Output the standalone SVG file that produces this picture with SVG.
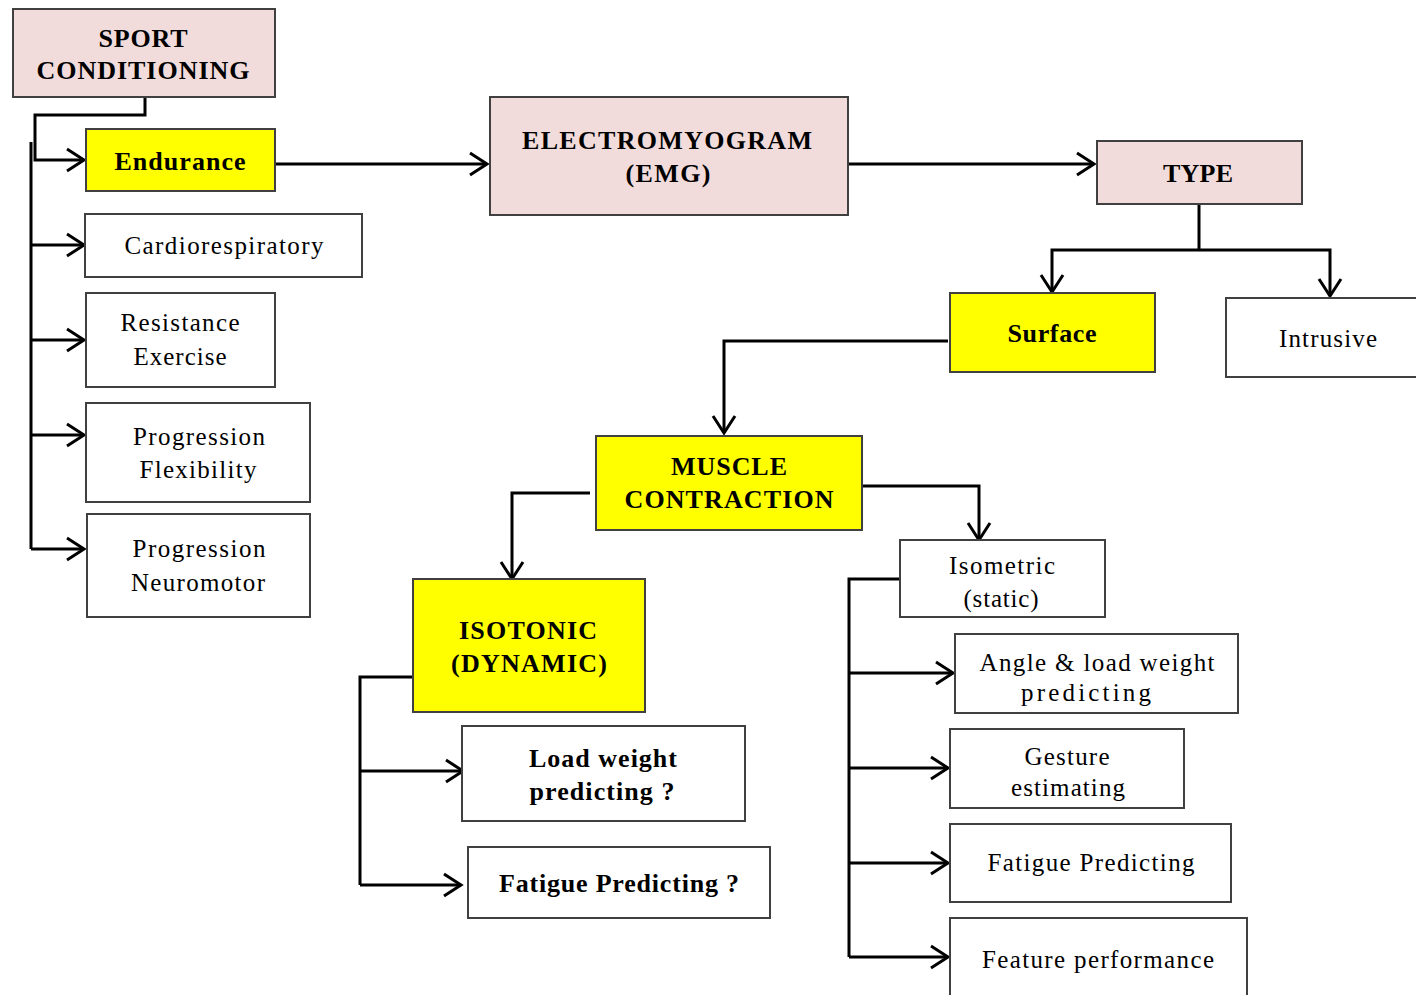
<svg xmlns="http://www.w3.org/2000/svg" width="1416" height="995" viewBox="0 0 1416 995">
<defs>
<marker id="arr" markerUnits="userSpaceOnUse" markerWidth="24" markerHeight="26" refX="19" refY="13" orient="auto">
<path d="M2,2 L19,13 L2,24" fill="none" stroke="#000" stroke-width="3"/>
</marker>
<style>
.box{stroke:#404040;stroke-width:2}
.pink{fill:#f2dcdb}
.yel{fill:#ffff00}
.wht{fill:#ffffff}
text{font-family:'Liberation Serif','DejaVu Serif','Times New Roman',serif;fill:#000;text-anchor:middle}
.n{font-size:25px}
.b{font-size:26px;font-weight:bold}
.c{fill:none;stroke:#000;stroke-width:3}
.ca{fill:none;stroke:#000;stroke-width:3;marker-end:url(#arr)}
</style>
</defs>
<rect width="1416" height="995" fill="#fff"/>
<g id="connectors">
<path class="ca" d="M145,97 V115 H35 V160 H84"/>
<path class="c" d="M31,142 V549"/>
<path class="ca" d="M31,245 H84"/>
<path class="ca" d="M31,340 H84"/>
<path class="ca" d="M31,435 H84"/>
<path class="ca" d="M31,549 H84"/>
<path class="ca" d="M275,164 H487"/>
<path class="ca" d="M848,164 H1094"/>
<path class="c" d="M1199,204 V250"/>
<path class="ca" d="M1199,250 H1052 V292"/>
<path class="ca" d="M1199,250 H1330 V296"/>
<path class="ca" d="M948,341 H724 V433"/>
<path class="ca" d="M590,493 H512 V579"/>
<path class="ca" d="M862,486 H979 V540"/>
<path class="c" d="M413,677 H360 V885"/>
<path class="ca" d="M360,771 H463"/>
<path class="ca" d="M360,885 H461"/>
<path class="c" d="M900,579 H849 V957"/>
<path class="ca" d="M849,673 H953"/>
<path class="ca" d="M849,768 H948"/>
<path class="ca" d="M849,863 H948"/>
<path class="ca" d="M849,957 H948"/>
</g>
<g id="sport"><rect class="box pink" x="13" y="9" width="262" height="88"/>
<text class="b" x="143" y="47" textLength="89" lengthAdjust="spacing">SPORT</text>
<text class="b" x="143" y="79" textLength="213" lengthAdjust="spacing">CONDITIONING</text></g>
<g id="endurance"><rect class="box yel" x="86" y="129" width="189" height="62"/>
<text class="b" x="180" y="170" textLength="131" lengthAdjust="spacing">Endurance</text></g>
<g id="cardio"><rect class="box wht" x="85" y="214" width="277" height="63"/>
<text class="n" x="224" y="254" textLength="199" lengthAdjust="spacing">Cardiorespiratory</text></g>
<g id="resistance"><rect class="box wht" x="86" y="293" width="189" height="94"/>
<text class="n" x="180" y="331" textLength="119" lengthAdjust="spacing">Resistance</text>
<text class="n" x="180" y="365" textLength="93" lengthAdjust="spacing">Exercise</text></g>
<g id="flexibility"><rect class="box wht" x="86" y="403" width="224" height="99"/>
<text class="n" x="199" y="445" textLength="132" lengthAdjust="spacing">Progression</text>
<text class="n" x="198" y="478" textLength="117" lengthAdjust="spacing">Flexibility</text></g>
<g id="neuromotor"><rect class="box wht" x="87" y="514" width="223" height="103"/>
<text class="n" x="199" y="557" textLength="133" lengthAdjust="spacing">Progression</text>
<text class="n" x="198" y="591" textLength="134" lengthAdjust="spacing">Neuromotor</text></g>
<g id="emg"><rect class="box pink" x="490" y="97" width="358" height="118"/>
<text class="b" x="667" y="149" textLength="290" lengthAdjust="spacing">ELECTROMYOGRAM</text>
<text class="b" x="668" y="182" textLength="85" lengthAdjust="spacing">(EMG)</text></g>
<g id="type"><rect class="box pink" x="1097" y="141" width="205" height="63"/>
<text class="b" x="1198" y="182" textLength="70" lengthAdjust="spacing">TYPE</text></g>
<g id="surface"><rect class="box yel" x="950" y="293" width="205" height="79"/>
<text class="b" x="1052" y="342" textLength="89" lengthAdjust="spacing">Surface</text></g>
<g id="intrusive"><rect class="box wht" x="1226" y="298" width="200" height="79"/>
<text class="n" x="1328" y="347" textLength="98" lengthAdjust="spacing">Intrusive</text></g>
<g id="muscle"><rect class="box yel" x="596" y="436" width="266" height="94"/>
<text class="b" x="729" y="475" textLength="116" lengthAdjust="spacing">MUSCLE</text>
<text class="b" x="729" y="508" textLength="209" lengthAdjust="spacing">CONTRACTION</text></g>
<g id="isotonic"><rect class="box yel" x="413" y="579" width="232" height="133"/>
<text class="b" x="528" y="639" textLength="138" lengthAdjust="spacing">ISOTONIC</text>
<text class="b" x="529" y="672" textLength="156" lengthAdjust="spacing">(DYNAMIC)</text></g>
<g id="loadweight"><rect class="box wht" x="462" y="726" width="283" height="95"/>
<text class="b" x="603" y="767" textLength="148" lengthAdjust="spacing">Load weight</text>
<text class="b" x="602" y="800" textLength="145" lengthAdjust="spacing">predicting ?</text></g>
<g id="fatigue1"><rect class="box wht" x="468" y="847" width="302" height="71"/>
<text class="b" x="619" y="892" textLength="240" lengthAdjust="spacing">Fatigue Predicting ?</text></g>
<g id="isometric"><rect class="box wht" x="900" y="540" width="205" height="77"/>
<text class="n" x="1002" y="574" textLength="106" lengthAdjust="spacing">Isometric</text>
<text class="n" x="1001" y="607" textLength="75" lengthAdjust="spacing">(static)</text></g>
<g id="angle"><rect class="box wht" x="955" y="634" width="283" height="79"/>
<text class="n" x="1097" y="671" textLength="235" lengthAdjust="spacing">Angle &amp; load weight</text>
<text class="n" x="1086" y="701" textLength="130" lengthAdjust="spacing">predicting</text></g>
<g id="gesture"><rect class="box wht" x="950" y="729" width="234" height="79"/>
<text class="n" x="1067" y="765" textLength="85" lengthAdjust="spacing">Gesture</text>
<text class="n" x="1068" y="796" textLength="114" lengthAdjust="spacing">estimating</text></g>
<g id="fatigue2"><rect class="box wht" x="950" y="824" width="281" height="78"/>
<text class="n" x="1091" y="871" textLength="207" lengthAdjust="spacing">Fatigue Predicting</text></g>
<g id="feature"><rect class="box wht" x="950" y="918" width="297" height="90"/>
<text class="n" x="1098" y="968" textLength="232" lengthAdjust="spacing">Feature performance</text></g>
</svg>
